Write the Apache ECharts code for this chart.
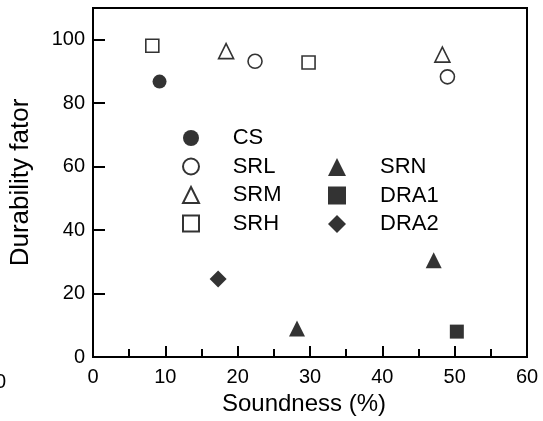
<!DOCTYPE html>
<html>
<head>
<meta charset="utf-8">
<script src="https://cdn.jsdelivr.net/npm/echarts@6/dist/echarts.min.js"></script>
<style>html,body{margin:0;padding:0;background:#fff;}#c{width:543px;height:421px;}</style>
</head>
<body>
<div id="c"></div>
<script>
var xTicks = [0, 10, 20, 30, 40, 50, 60];
var yTicks = [0, 20, 40, 60, 80, 100];
var CS = [[9.2, 86.8]];
var SRL = [[22.4, 93.2], [49.0, 88.3]];
var SRM = [[18.4, 96.4], [48.3, 95.3]];
var SRH = [[8.2, 98.1], [29.8, 92.8]];
var SRN = [[28.2, 9.0], [47.1, 30.5]];
var DRA1 = [[50.3, 8.0]];
var DRA2 = [[17.3, 24.6]];

var FONT = 'Liberation Sans, Arial, Helvetica, sans-serif';
var chart = echarts.init(document.getElementById('c'), null, {renderer: 'canvas'});
var hollow = {color: '#fff', borderColor: '#000', borderWidth: 1.6};
var solid = {color: '#000'};
function s(name, data, symbol, size, style) {
  return {name: name, type: 'scatter', data: data, symbol: symbol, symbolSize: size,
    itemStyle: style, emphasis: {disabled: true}, z: 5};
}
function lt(pad) {
  return {fontFamily: FONT, fontSize: 22, color: '#000', lineHeight: 20, padding: [0, 0, 0, pad]};
}
chart.setOption({
  animation: false,
  backgroundColor: '#fff',
  grid: {left: 90, right: 16, top: 8, bottom: 59, show: true, borderColor: '#000', borderWidth: 2, backgroundColor: 'transparent'},
  xAxis: {
    type: 'value', min: xTicks[0], max: xTicks[xTicks.length - 1], interval: 10,
    name: 'Soundness (%)', nameLocation: 'middle', nameGap: 35,
    nameTextStyle: {fontFamily: FONT, fontSize: 24, color: '#000', padding: [0, 12, 0, 0]},
    axisLine: {lineStyle: {color: '#000', width: 2}},
    axisTick: {inside: true, length: 11, lineStyle: {color: '#000', width: 2}},
    minorTick: {show: true, splitNumber: 2, length: 8, lineStyle: {color: '#000', width: 2}},
    axisLabel: {fontFamily: FONT, fontSize: 20, color: '#000', margin: 10},
    splitLine: {show: false}
  },
  yAxis: {
    type: 'value', min: 0, max: 110, interval: 20,
    name: 'Durability fator', nameLocation: 'middle', nameGap: 59,
    nameTextStyle: {fontFamily: FONT, fontSize: 26, color: '#000'},
    axisLine: {lineStyle: {color: '#000', width: 2}},
    axisTick: {inside: true, length: 12, lineStyle: {color: '#000', width: 2}},
    axisLabel: {fontFamily: FONT, fontSize: 20, color: '#000', margin: 8, showMaxLabel: false,
      formatter: function (v) { return yTicks.indexOf(v) >= 0 ? String(v) : ''; }},
    splitLine: {show: false}
  },
  legend: [
    {data: ['CS', 'SRL', 'SRM', 'SRH'], orient: 'vertical', left: 182, top: 127, padding: 0,
      itemWidth: 16, itemHeight: 16, itemGap: 6.5, textStyle: lt(28.7), selectedMode: false},
    {data: ['SRN', 'DRA1', 'DRA2'], orient: 'vertical', left: 328, top: 156, padding: 0,
      itemWidth: 18, itemHeight: 18, itemGap: 6.5, textStyle: lt(29), selectedMode: false}
  ],
  graphic: [
    {type: 'text', left: -5, top: 372, style: {text: '0', fontFamily: FONT, fontSize: 20, fill: '#000'}}
  ],
  series: [
    s('CS', CS, 'circle', 14, solid),
    s('SRL', SRL, 'circle', 14, hollow),
    s('SRM', SRM, 'triangle', 15, hollow),
    s('SRH', SRH, 'rect', 13, hollow),
    s('SRN', SRN, 'triangle', 16, solid),
    s('DRA1', DRA1, 'rect', 14, solid),
    s('DRA2', DRA2, 'diamond', 17, solid)
  ]
});
</script>
</body>
</html>
